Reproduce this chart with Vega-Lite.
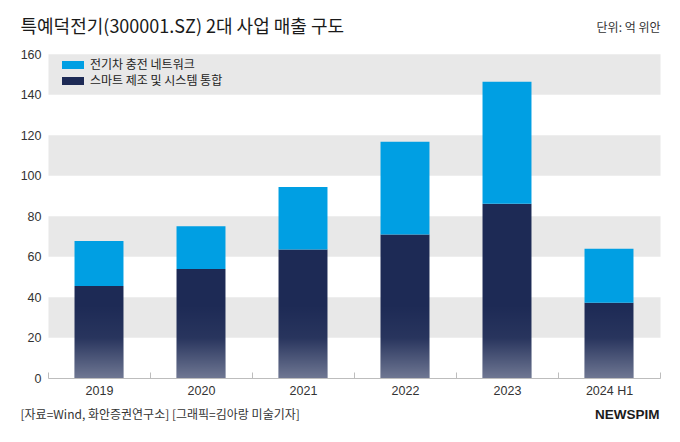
{
  "$schema": "https://vega.github.io/schema/vega-lite/v6.json",
  "autosize": {"type": "none"},
  "padding": {"left": 48, "top": 54, "right": 20, "bottom": 64},
  "width": 612,
  "height": 324,
  "background": "#ffffff",
  "config": {
    "view": {"stroke": null},
    "font": "Liberation Sans, Noto Sans CJK KR",
    "axis": {"labelFont": "Liberation Sans, Noto Sans CJK KR", "titleFont": "Noto Sans CJK KR"}
  },
  "data": {
    "values": [
      {"year": "2019", "segment": "스마트 제조 및 시스템 통합", "value": 45.4},
      {"year": "2019", "segment": "전기차 충전 네트워크", "value": 22.3},
      {"year": "2020", "segment": "스마트 제조 및 시스템 통합", "value": 53.8},
      {"year": "2020", "segment": "전기차 충전 네트워크", "value": 21.1},
      {"year": "2021", "segment": "스마트 제조 및 시스템 통합", "value": 63.5},
      {"year": "2021", "segment": "전기차 충전 네트워크", "value": 30.8},
      {"year": "2022", "segment": "스마트 제조 및 시스템 통합", "value": 70.9},
      {"year": "2022", "segment": "전기차 충전 네트워크", "value": 45.8},
      {"year": "2023", "segment": "스마트 제조 및 시스템 통합", "value": 86.1},
      {"year": "2023", "segment": "전기차 충전 네트워크", "value": 60.2},
      {"year": "2024 H1", "segment": "스마트 제조 및 시스템 통합", "value": 37.1},
      {"year": "2024 H1", "segment": "전기차 충전 네트워크", "value": 26.7}
    ]
  },
  "layer": [
    {
      "mark": {"type": "bar", "width": {"band": 0.48}},
      "encoding": {
        "x": {
          "field": "year", "type": "nominal", "sort": null,
          "scale": {"paddingInner": 0, "paddingOuter": 0},
          "axis": {
            "orient": "bottom", "labelAngle": 0, "labelFontSize": 12.5, "labelColor": "#333333",
            "domainColor": "#bdbdbd", "tickColor": "#bdbdbd", "tickSize": -6, "tickBand": "extent",
            "labelPadding": 12,
            "title": "[자료=Wind, 화안증권연구소] [그래픽=김아랑 미술기자]",
            "titleFontSize": 12, "titleFontWeight": "normal", "titleColor": "#333333",
            "titleX": -28, "titleY": 36, "titleAlign": "left", "titleBaseline": "middle"
          }
        },
        "y": {
          "field": "value", "type": "quantitative", "stack": "zero",
          "scale": {"domain": [0, 160]},
          "axis": {
            "orient": "left", "values": [0, 20, 40, 60, 80, 100, 120, 140, 160],
            "labelFontSize": 12.5, "labelColor": "#333333", "labelPadding": 7,
            "ticks": false, "domain": false, "grid": false,
            "title": "단위: 억 위안", "titleAngle": 0, "titleX": 612, "titleY": -27,
            "titleAlign": "right", "titleBaseline": "middle", "titleFontSize": 12,
            "titleFontWeight": "normal", "titleColor": "#333333"
          }
        },
        "color": {
          "field": "segment", "type": "nominal",
          "scale": {"domain": ["전기차 충전 네트워크", "스마트 제조 및 시스템 통합"], "range": ["#009fe3", "#1d2a55"]},
          "legend": {
            "orient": "none", "legendX": 15, "legendY": 1, "title": null,
            "symbolType": "M-1.1,-0.4H1.1V0.4H-1.1Z", "symbolSize": 400, "symbolStrokeWidth": 0,
            "labelFont": "Noto Sans CJK KR", "labelFontSize": 12, "labelColor": "#222222",
            "labelOffset": 7, "rowPadding": 0, "padding": 0
          }
        },
        "order": {"field": "segment", "sort": "ascending"}
      }
    },
    {
      "transform": [{"filter": "datum.segment === '스마트 제조 및 시스템 통합'"}],
      "mark": {
        "type": "bar", "width": {"band": 0.48},
        "fill": {
          "gradient": "linear", "x1": 0, "y1": 0, "x2": 0, "y2": 1,
          "stops": [
            {"offset": 0, "color": "rgba(255,255,255,0)"},
            {"offset": 0.45, "color": "rgba(255,255,255,0.05)"},
            {"offset": 1, "color": "rgba(255,255,255,0.36)"}
          ]
        }
      },
      "encoding": {
        "x": {
          "field": "year", "type": "nominal", "sort": null,
          "axis": {
            "orient": "top", "labels": false, "ticks": false, "domain": false,
            "title": "특예덕전기(300001.SZ) 2대 사업 매출 구도",
            "titleX": -28, "titleY": -27, "titleAlign": "left", "titleBaseline": "middle",
            "titleFontSize": 18, "titleFontWeight": "normal", "titleColor": "#1a1a1a"
          }
        },
        "y": {
          "datum": 0, "type": "quantitative",
          "axis": {
            "orient": "right", "values": [30, 70, 110, 150], "grid": true, "gridWidth": 40.5,
            "gridColor": "#e8e8e8", "labels": false, "ticks": false, "domain": false,
            "title": "NEWSPIM", "titleAngle": 0, "titleX": -1, "titleY": 360,
            "titleAlign": "right", "titleBaseline": "middle", "titleFont": "Liberation Sans",
            "titleFontSize": 13.5, "titleFontWeight": "bold", "titleColor": "#1b1b1b"
          }
        },
        "y2": {"datum": 36}
      }
    }
  ],
  "resolve": {"axis": {"x": "independent", "y": "independent"}}
}
